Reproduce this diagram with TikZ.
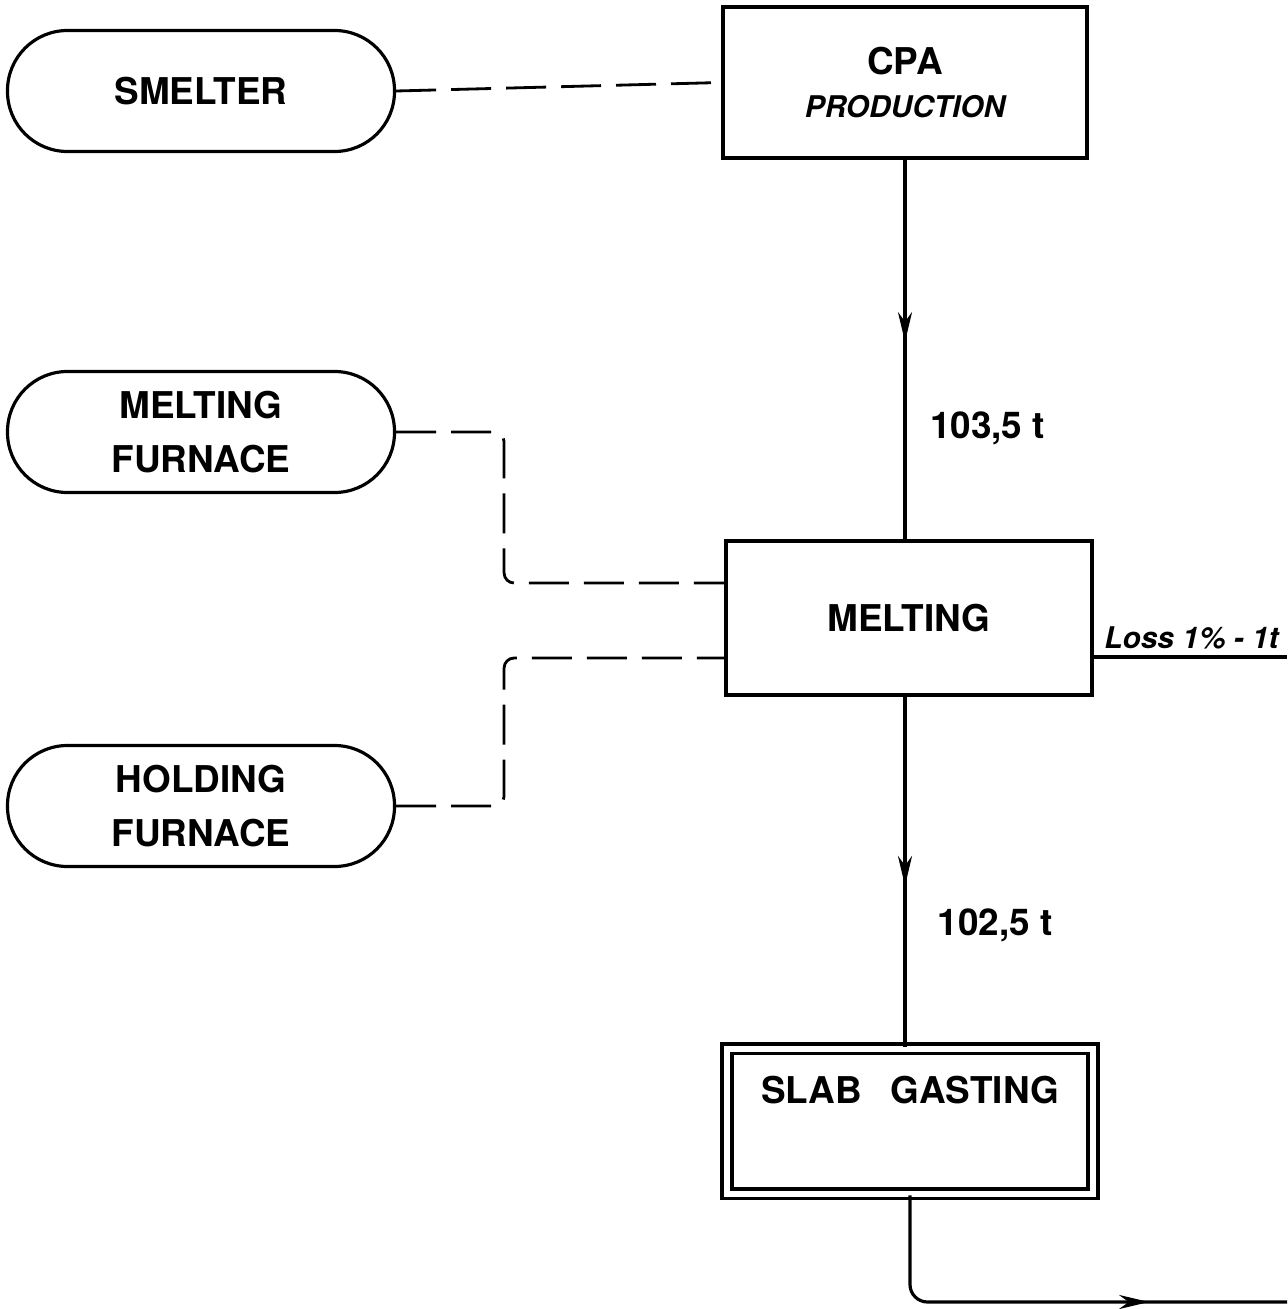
\documentclass[tikz,border=0pt]{standalone}
\usepackage{fontspec}
\setmainfont{TeX Gyre Heros}
\usetikzlibrary{arrows.meta,decorations.markings}

\tikzset{
  procbox/.style={draw, line width=2.4pt, align=center},
  furnace/.style={draw, line width=1.8pt, rounded corners=1.2cm, minimum width=7.74cm, minimum height=2.42cm, align=center, font=\bfseries\fontsize{21}{31}\selectfont},
  flow/.style={line width=1.8pt},
  signal/.style={line width=1.6pt, dash pattern=on 0.8cm off 0.3cm, rounded corners=0.2cm},
  midarrow/.style={postaction={decorate}, decoration={markings, mark=at position #1 with {\arrow{Stealth[length=17pt,width=8pt]}}}},
}

\begin{document}
\begin{tikzpicture}[font=\bfseries\fontsize{21}{26}\selectfont]
  \useasboundingbox (0,0) rectangle (25.74,-26.18);

  % Furnaces on the left
  \node[furnace] (smelter) at (4.02,-1.82) {SMELTER};
  \node[furnace] (mfurn) at (4.02,-8.64) {MELTING\\FURNACE};
  \node[furnace] (hfurn) at (4.02,-16.12) {HOLDING\\FURNACE};

  % Process boxes
  \node[procbox, minimum width=7.28cm, minimum height=3.02cm] (cpa) at (18.1,-1.65) {CPA\\[-2pt]{\itshape\fontsize{17}{20}\selectfont PRODUCTION}};
  \node[procbox, minimum width=7.32cm, minimum height=3.08cm] (melt) at (18.18,-12.36) {MELTING};
  % Double framed casting box, text sits high
  \node[procbox, double, line width=2.2pt, double distance=3.4pt, minimum width=7.32cm, minimum height=2.9cm, text height=0.6cm, text depth=1.3cm] (slab) at (18.2,-22.42) {SLAB\enspace\ GASTING};

  % Dashed links from the furnaces
  \draw[signal] (smelter.east) -- (cpa.west);
  \draw[signal] (mfurn.east) -- ++(2.16,0) |- ([yshift=0.7cm]melt.west);
  \draw[signal] (hfurn.east) -- ++(2.16,0) |- ([yshift=-0.8cm]melt.west);

  % Main metal flow
  \draw[flow, midarrow=0.48] (cpa.south) -- (cpa.south |- melt.north);
  \node (qin) at (19.75,-8.56) {103,5 t};
  \draw[flow, midarrow=0.54] (cpa.south |- melt.south) -- (cpa.south |- slab.north);
  \node (qout) at (19.9,-18.5) {102,5 t};

  % Loss leaving the melting box
  \coordinate (lossend) at (25.74,-13.14);
  \draw[flow] ([yshift=-0.78cm]melt.east) -- (lossend);
  \node[anchor=base west, inner xsep=0pt, font=\bfseries\itshape\fontsize{17}{20}\selectfont] (loss) at (22.08,-12.96) {Loss 1\% - 1t};

  % Output of the casting
  \coordinate (out) at (25.74,-26.04);
  \draw[flow, rounded corners=0.35cm, midarrow=0.71] (slab.south) |- (out);
\end{tikzpicture}
\end{document}
